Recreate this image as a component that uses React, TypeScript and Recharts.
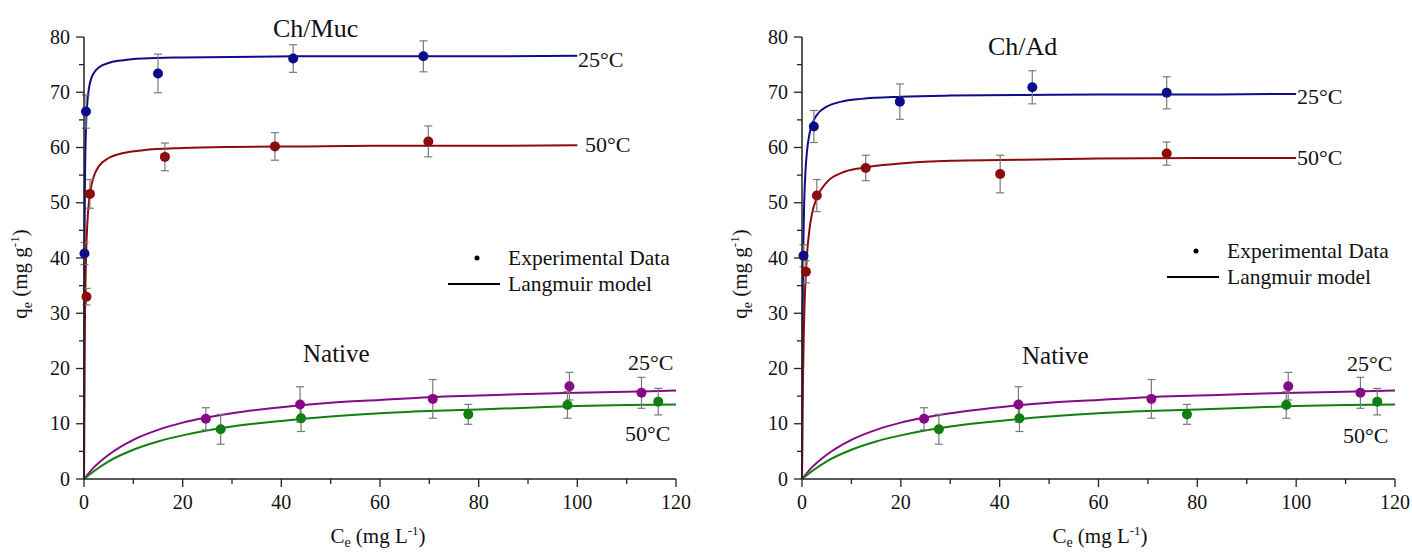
import React from "react";
import { ComposedChart, ErrorBar, Line, Scatter, XAxis, YAxis } from "recharts";

const FONT = "'Liberation Serif', 'Times New Roman', serif";
const AXIS = "#222";
const BLUE = "#0d0d8c";
const RED = "#8c0b0b";
const PURPLE = "#860a86";
const GREEN = "#0f800f";
const ERR = "#7a7a7a";

// fitted curves (Langmuir)
const chX = [0, 0.1, 0.2, 0.4, 0.7, 1, 1.5, 2, 3, 5, 8, 12, 20, 30, 45, 60, 80, 100];
const mucFit25 = [0, 41.8, 54.1, 63.4, 68.4, 70.7, 72.6, 73.5, 74.5, 75.3, 75.8, 76.1, 76.3, 76.4, 76.5, 76.5, 76.5, 76.6];
const mucFit50 = [0, 19.6, 29.6, 39.8, 46.6, 50.1, 53.1, 54.8, 56.6, 58.1, 59.0, 59.5, 59.9, 60.1, 60.2, 60.3, 60.3, 60.4];
const adFit25 = [0, 25.1, 36.9, 48.3, 55.6, 59.2, 62.4, 64.1, 65.9, 67.4, 68.3, 68.8, 69.2, 69.4, 69.5, 69.6, 69.6, 69.7];
const adFit50 = [0, 10.8, 18.2, 27.8, 35.8, 40.5, 45.1, 47.9, 50.9, 53.7, 55.4, 56.3, 57.1, 57.6, 57.8, 58.0, 58.1, 58.1];

const nativeX = [0, 2, 5, 10, 15, 20, 30, 40, 50, 60, 70, 80, 90, 100, 110, 120];
const nativeFit25 = [0, 2.1, 4.4, 7.1, 8.9, 10.2, 11.9, 13.0, 13.8, 14.3, 14.8, 15.1, 15.4, 15.6, 15.8, 16.0];
const nativeFit50 = [0, 1.4, 3.2, 5.3, 6.8, 7.9, 9.5, 10.5, 11.3, 11.9, 12.3, 12.6, 12.9, 13.2, 13.4, 13.5];

// experimental points with error (±)
const mucX25 = [0.1, 0.4, 15, 42.4, 68.8];
const mucY25 = [40.8, 66.5, 73.4, 76.1, 76.5];
const mucE25 = [2, 3, 3.5, 2.5, 2.8];
const mucX50 = [0.5, 1.2, 16.4, 38.7, 69.8];
const mucY50 = [33, 51.6, 58.3, 60.2, 61.1];
const mucE50 = [1.5, 2.6, 2.5, 2.5, 2.8];

const adX25 = [0.3, 2.4, 19.8, 46.6, 73.8];
const adY25 = [40.4, 63.8, 68.3, 70.9, 69.9];
const adE25 = [2, 2.9, 3.2, 3.0, 2.9];
const adX50 = [0.8, 3.0, 12.9, 40.1, 73.8];
const adY50 = [37.5, 51.3, 56.3, 55.2, 58.9];
const adE50 = [2, 2.9, 2.3, 3.4, 2.1];

const natX25 = [24.7, 43.8, 70.7, 98.4, 113];
const natY25 = [10.9, 13.5, 14.5, 16.8, 15.6];
const natE25 = [2.0, 3.2, 3.5, 2.5, 2.8];
const natX50 = [27.7, 44, 77.9, 98, 116.4];
const natY50 = [9.0, 11.0, 11.7, 13.4, 14.0];
const natE50 = [2.7, 2.4, 1.8, 2.4, 2.4];

const yTicks = [0, 5, 10, 15, 20, 25, 30, 35, 40, 45, 50, 55, 60, 65, 70, 75, 80];
const xTicks = [0, 10, 20, 30, 40, 50, 60, 70, 80, 90, 100, 110, 120];

const curve = (xs: number[], ys: number[]) => xs.map((x, i) => ({ x, y: ys[i] }));
const pts = (xs: number[], ys: number[], es: number[]) =>
  xs.map((x, i) => ({ x, y: ys[i], err: es[i] }));

function YTick({ x, y, payload }: any) {
  const major = payload.value % 10 === 0;
  return (
    <g>
      <line x1={x - (major ? 8 : 5)} x2={x} y1={y} y2={y} stroke={AXIS} strokeWidth={1.3} />
      {major && (
        <text x={x - 14} y={y + 6.5} textAnchor="end" fontSize={20} fontFamily={FONT} fill="#111">
          {payload.value}
        </text>
      )}
    </g>
  );
}

function XTick({ x, y, payload }: any) {
  const major = payload.value % 20 === 0;
  return (
    <g>
      <line x1={x} x2={x} y1={y} y2={y + (major ? 8 : 5)} stroke={AXIS} strokeWidth={1.3} />
      {major && (
        <text x={x} y={y + 30} textAnchor="middle" fontSize={20} fontFamily={FONT} fill="#111">
          {payload.value}
        </text>
      )}
    </g>
  );
}

const dot = (color: string) => (p: any) => <circle cx={p.cx} cy={p.cy} r={5} fill={color} />;

type Series = { fit: { x: number; y: number }[]; points: { x: number; y: number; err: number }[]; color: string };

function Panel({ width, yAxisWidth, right, series }: { width: number; yAxisWidth: number; right: number; series: Series[] }) {
  return (
    <ComposedChart width={width} height={553} margin={{ top: 37, right, bottom: 0, left: 0 }}>
      <XAxis
        dataKey="x"
        type="number"
        domain={[0, 120]}
        ticks={xTicks}
        interval={0}
        height={74}
        tickSize={0}
        tickMargin={0}
        tickLine={false}
        tick={<XTick />}
        axisLine={{ stroke: AXIS, strokeWidth: 1.5 }}
      />
      <YAxis
        type="number"
        domain={[0, 80]}
        ticks={yTicks}
        interval={0}
        width={yAxisWidth}
        tickSize={0}
        tickMargin={0}
        tickLine={false}
        tick={<YTick />}
        axisLine={{ stroke: AXIS, strokeWidth: 1.5 }}
      />
      {series.map((s, i) => (
        <Line
          key={"l" + i}
          data={s.fit}
          dataKey="y"
          type="monotone"
          dot={false}
          stroke={s.color}
          strokeWidth={2}
          isAnimationActive={false}
        />
      ))}
      {series.map((s, i) => (
        <Scatter key={"s" + i} data={s.points} dataKey="y" shape={dot(s.color)} isAnimationActive={false}>
          <ErrorBar dataKey="err" direction="y" width={4} stroke={ERR} strokeWidth={1.2} />
        </Scatter>
      ))}
    </ComposedChart>
  );
}

const T = (props: any) => <text fontFamily={FONT} fill="#111" {...props} />;

function Labels({ ox, title, titleX, tx, t25, t50, n25, n50, leg }: any) {
  return (
    <g>
      <T x={title[0]} y={title[1]} fontSize={26}>{titleX}</T>
      <T x={t25[0]} y={t25[1]} fontSize={22}>25°C</T>
      <T x={t50[0]} y={t50[1]} fontSize={22}>50°C</T>
      <T x={tx[0]} y={tx[1]} fontSize={25}>Native</T>
      <T x={n25[0]} y={n25[1]} fontSize={22}>25°C</T>
      <T x={n50[0]} y={n50[1]} fontSize={22}>50°C</T>
      <circle cx={leg[0] - 31} cy={leg[1] - 7} r={2.5} fill="#000" />
      <T x={leg[0]} y={leg[1]} fontSize={21.5}>Experimental Data</T>
      <line x1={leg[0] - 60} x2={leg[0] - 8} y1={leg[1] + 19} y2={leg[1] + 19} stroke="#000" strokeWidth={2} />
      <T x={leg[0]} y={leg[1] + 26} fontSize={21.5}>Langmuir model</T>
      <T transform={`translate(${ox + 33},274) rotate(-90)`} textAnchor="middle" fontSize={21}>
        q<tspan fontSize={14} dy={5}>e</tspan>
        <tspan dy={-5}> (mg g</tspan>
        <tspan fontSize={13} dy={-8}>-1</tspan>
        <tspan dy={8}>)</tspan>
      </T>
    </g>
  );
}

function XLabel({ cx }: { cx: number }) {
  return (
    <T x={cx} y={543} textAnchor="middle" fontSize={21}>
      C<tspan fontSize={14} dy={4}>e</tspan>
      <tspan dy={-4}> (mg L</tspan>
      <tspan fontSize={13} dy={-8}>-1</tspan>
      <tspan dy={8}>)</tspan>
    </T>
  );
}

export default function App() {
  const left: Series[] = [
    { fit: curve(chX, mucFit25), points: pts(mucX25, mucY25, mucE25), color: BLUE },
    { fit: curve(chX, mucFit50), points: pts(mucX50, mucY50, mucE50), color: RED },
    { fit: curve(nativeX, nativeFit25), points: pts(natX25, natY25, natE25), color: PURPLE },
    { fit: curve(nativeX, nativeFit50), points: pts(natX50, natY50, natE50), color: GREEN },
  ];
  const right: Series[] = [
    { fit: curve(chX, adFit25), points: pts(adX25, adY25, adE25), color: BLUE },
    { fit: curve(chX, adFit50), points: pts(adX50, adY50, adE50), color: RED },
    { fit: curve(nativeX, nativeFit25), points: pts(natX25, natY25, natE25), color: PURPLE },
    { fit: curve(nativeX, nativeFit50), points: pts(natX50, natY50, natE50), color: GREEN },
  ];
  return (
    <div style={{ position: "absolute", left: 0, top: 0, width: 1412, height: 553, background: "#fff", overflow: "hidden" }}>
      <div style={{ position: "absolute", left: 0, top: 0 }}>
        <Panel width={700} yAxisWidth={84} right={24} series={left} />
      </div>
      <div style={{ position: "absolute", left: 720, top: 0 }}>
        <Panel width={692} yAxisWidth={82} right={17} series={right} />
      </div>
      <svg width={1412} height={553} style={{ position: "absolute", left: 0, top: 0, pointerEvents: "none" }}>
        <Labels
          ox={-6}
          title={[273, 37]}
          titleX="Ch/Muc"
          t25={[578, 67]}
          t50={[585, 152]}
          tx={[303, 362]}
          n25={[628, 370]}
          n50={[625, 441]}
          leg={[508, 265]}
        />
        <Labels
          ox={714}
          title={[988, 55]}
          titleX="Ch/Ad"
          t25={[1297, 104]}
          t50={[1297, 165]}
          tx={[1022, 364]}
          n25={[1347, 371]}
          n50={[1343, 443]}
          leg={[1227, 258]}
        />
        <XLabel cx={378} />
        <XLabel cx={1100} />
      </svg>
    </div>
  );
}
